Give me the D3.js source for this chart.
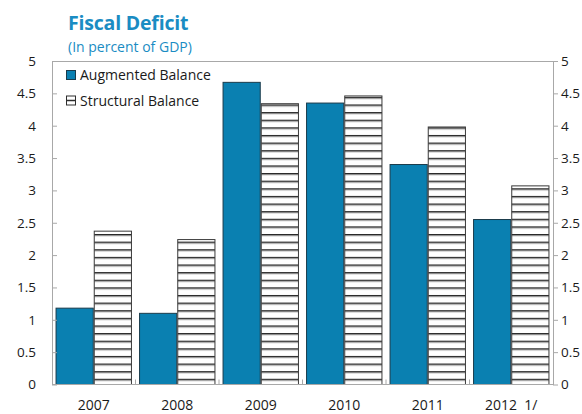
<!DOCTYPE html>
<html>
<head>
<meta charset="utf-8">
<script src="https://cdn.jsdelivr.net/npm/d3@7"></script>
<style>
  html, body { margin: 0; padding: 0; background: #fff; }
  svg { display: block; font-family: "Open Sans", "Noto Sans", sans-serif; }
</style>
</head>
<body>
<svg id="chart" width="582" height="414"></svg>
<script>
// Fiscal deficit, percent of GDP
const categories = ["2007", "2008", "2009", "2010", "2011", "2012  1/"];
const seriesNames = ["Augmented Balance", "Structural Balance"];
const augmented = [1.18, 1.10, 4.67, 4.35, 3.40, 2.55];
const structural = [2.37, 2.24, 4.34, 4.46, 3.98, 3.07];
const yTicks = [0, 0.5, 1, 1.5, 2, 2.5, 3, 3.5, 4, 4.5, 5];
const yTickLabels = ["0", "0.5", "1", "1.5", "2", "2.5", "3", "3.5", "4", "4.5", "5"];

const BLUE = "#0a80b1";
const TITLE = "#1a8cc3";
const AXIS = "#a8a8a8";

const svg = d3.select("#chart");
const plot = { left: 52, right: 553, top: 61, bottom: 384.5 };

const x = d3.scaleBand()
  .domain(categories)
  .range([plot.left, plot.right])
  .paddingInner(0.085)
  .paddingOuter(0.0425);
const x1 = d3.scaleBand().domain(seriesNames).range([0, x.bandwidth()]);
const y = d3.scaleLinear().domain([0, 5]).range([plot.bottom, plot.top]);

// horizontal hatch used by the structural balance bars
const defs = svg.append("defs");
const pat = defs.append("pattern")
  .attr("id", "hatch")
  .attr("patternUnits", "userSpaceOnUse")
  .attr("x", 0).attr("y", 234)
  .attr("width", 10).attr("height", 7.62);
pat.append("rect").attr("width", 10).attr("height", 7.62).attr("fill", "#fff");
pat.append("rect").attr("y", 0).attr("width", 10).attr("height", 1.2).attr("fill", "#262626");
pat.append("rect").attr("y", 1.2).attr("width", 10).attr("height", 0.9).attr("fill", "#7a7a7a");

// title
svg.append("text")
  .attr("x", 68).attr("y", 30)
  .attr("fill", TITLE)
  .attr("font-size", 19.5).attr("font-weight", "bold")
  .attr("letter-spacing", -0.2)
  .text("Fiscal Deficit");
svg.append("text")
  .attr("x", 68).attr("y", 51.5)
  .attr("fill", TITLE)
  .attr("font-size", 14)
  .text("(In percent of GDP)");

// top edge of the frame
svg.append("line")
  .attr("x1", plot.left).attr("x2", plot.right)
  .attr("y1", y(5) + 0.5).attr("y2", y(5) + 0.5)
  .attr("stroke", AXIS);

// bars
const rows = categories.map((c, i) => ({ cat: c, values: [augmented[i], structural[i]] }));
const groups = svg.append("g").selectAll("g")
  .data(rows).join("g")
  .attr("transform", d => `translate(${x(d.cat)},0)`);
groups.selectAll("rect")
  .data(d => d.values.map((v, j) => ({ name: seriesNames[j], v })))
  .join("rect")
  .attr("x", d => x1(d.name) + 0.5)
  .attr("y", d => y(d.v))
  .attr("width", x1.bandwidth() - 1)
  .attr("height", d => y(0) - y(d.v))
  .attr("fill", d => d.name === seriesNames[0] ? BLUE : "url(#hatch)")
  .attr("stroke", d => d.name === seriesNames[0] ? "#1b3b4b" : "#3a3a3a")
  .attr("stroke-width", 1);

// left axis, ticks pointing inward
const leftAxis = d3.axisLeft(y).tickValues(yTicks)
  .tickFormat((d, i) => yTickLabels[i])
  .tickSizeInner(-5).tickSizeOuter(0).tickPadding(16);
const gl = svg.append("g").attr("transform", `translate(${plot.left},0)`).call(leftAxis);

// right axis, ticks pointing outward
const rightAxis = d3.axisRight(y).tickValues(yTicks)
  .tickFormat((d, i) => yTickLabels[i])
  .tickSizeInner(5).tickSizeOuter(0).tickPadding(3);
const gr = svg.append("g").attr("transform", `translate(${plot.right},0)`).call(rightAxis);

// bottom axis with inward ticks at category boundaries
const gb = svg.append("g").attr("transform", `translate(0,${plot.bottom})`);
gb.append("line").attr("x1", plot.left).attr("x2", plot.right).attr("stroke", AXIS);
const step = x.step();
gb.selectAll("line.bound")
  .data(d3.range(1, categories.length))
  .join("line").attr("class", "bound")
  .attr("x1", i => plot.left + i * step).attr("x2", i => plot.left + i * step)
  .attr("y1", 0).attr("y2", -5).attr("stroke", AXIS);
gb.selectAll("text")
  .data(categories).join("text")
  .attr("x", d => x(d) + x.bandwidth() / 2)
  .attr("y", 25.5)
  .attr("text-anchor", "middle")
  .attr("font-size", 14)
  .attr("fill", "#1a1a1a")
  .style("white-space", "pre")
  .text(d => d);

[gl, gr].forEach(g => {
  g.select(".domain").attr("stroke", AXIS);
  g.selectAll(".tick line").attr("stroke", AXIS);
  g.selectAll(".tick text").attr("font-size", 13.5).attr("fill", "#1a1a1a")
    .attr("font-family", "'Open Sans', sans-serif");
});

// legend
const legend = svg.append("g");
seriesNames.forEach((name, i) => {
  const ly = 70 + i * 25.5;
  legend.append("rect")
    .attr("x", 66.5).attr("y", ly + 0.5)
    .attr("width", 9).attr("height", 9)
    .attr("fill", i === 0 ? BLUE : "#fff")
    .attr("stroke", i === 0 ? "#1b3b4b" : "#2e2e2e")
    .attr("stroke-width", 1);
  if (i === 1) {
    legend.append("line")
      .attr("x1", 66.5).attr("x2", 75.5)
      .attr("y1", ly + 5).attr("y2", ly + 5)
      .attr("stroke", "#2e2e2e").attr("stroke-width", 1.5);
  }
  legend.append("text")
    .attr("x", 80).attr("y", ly + 10)
    .attr("font-size", 14)
    .attr("fill", "#1a1a1a")
    .text(name);
});
</script>
</body>
</html>
